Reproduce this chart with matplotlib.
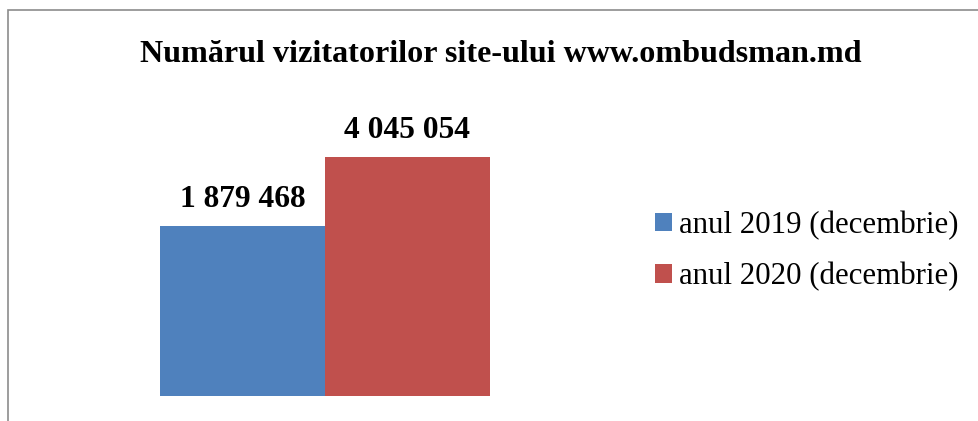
import matplotlib.pyplot as plt
import numpy as np
from matplotlib.patches import Rectangle

# data
series = ['anul 2019 (decembrie)', 'anul 2020 (decembrie)']
values = [1879468, 4045054]
labels = ['1 879 468', '4 045 054']
colors = ['#4F81BD', '#C0504D']
title = 'Numărul vizitatorilor site-ului www.ombudsman.md'

plt.rcParams['font.family'] = ['Liberation Serif', 'DejaVu Serif']

fig = plt.figure(figsize=(9.79, 4.21), dpi=100)

# outer chart border (cropped on right and bottom)
fig.patches.append(Rectangle((8/979, -0.1), 1.1, (421 - 10)/421 + 0.1,
                             transform=fig.transFigure, fill=False,
                             edgecolor='#8c8c8c', linewidth=1.2))

ax = fig.add_axes([28/979, (421 - 396)/421, 594/979, 320/421])
x = np.arange(len(values)) - (len(values) - 1) / 2
bars = ax.bar(x, values, width=1.0, color=colors, label=series, bottom=0)
ax.set_yscale('log')
ax.set_ylim(284000, 1e7)
ax.set_xlim(-1.8, 1.8)
ax.axis('off')

for b, lab in zip(bars, labels):
    ax.annotate(lab, (b.get_x() + b.get_width()/2, b.get_height()),
                xytext=(0, 19.5), textcoords='offset points',
                ha='center', va='center', fontsize=22.7, fontweight='bold')

fig.text(501/979, (421 - 55)/421, title, ha='center', va='center',
         fontsize=23.1, fontweight='bold')

fig.legend(handles=bars, labels=series, loc='center left',
           bbox_to_anchor=(655/979, (421 - 251)/421), frameon=False,
           fontsize=22.2, handlelength=0.55, handleheight=0.55,
           handletextpad=0.23, labelspacing=0.73, borderpad=0, borderaxespad=0)

fig.savefig('out.png', dpi=100)
